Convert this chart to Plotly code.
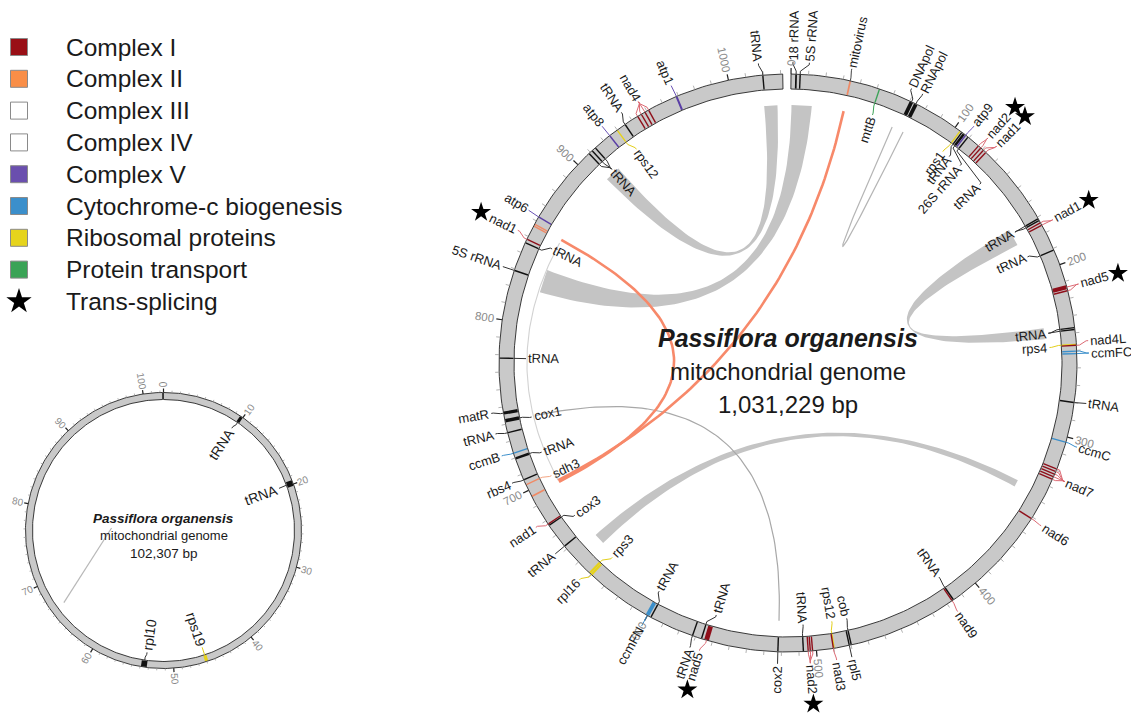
import math
import plotly.graph_objects as go

# ------------------------------------------------------------------ data
BIG_KB = 1031.229      # chromosome 1 length (kb)
SMALL_KB = 102.307     # chromosome 2 length (kb)

# chromosome 1 gene blocks: label, functional class, exon segments (kb),
# kb where the label sits, label side, trans-spliced flag
g_label = ['18 rRNA', '5S rRNA', 'mitovirus', 'mttB', 'DNApol', 'RNApol', 'rps1', 'tRNA', '26S rRNA', 'atp9',
           'tRNA', 'nad2', 'nad1', 'tRNA', 'nad1', 'tRNA', 'nad5', 'tRNA', 'rps4', 'nad4L',
           'ccmFC', 'tRNA', 'ccmC', 'nad7', 'nad6', 'tRNA', 'nad9', 'cob', 'rpl5', 'rps12',
           'nad3', 'nad2', 'tRNA', 'cox2', 'nad5', 'tRNA', 'tRNA', 'tRNA', 'ccmFN', 'rpl16',
           'rps3', 'tRNA', 'cox3', 'nad1', '', 'sdh3', 'rbs4', 'tRNA', 'ccmB', 'tRNA',
           'cox1', 'matR', 'tRNA', '5S rRNA', 'tRNA', 'nad1', '', 'atp6', 'tRNA', 'atp8',
           'rps12', 'tRNA', 'nad4', 'atp1', 'tRNA']
g_class = ['rna', 'rna', 'mito', 'ttb', 'orf', 'orf', 'rib', 'rna', 'rna', 'cV',
           'rna', 'cI', 'cI', 'rna', 'cI', 'rna', 'cI', 'rna', 'rib', 'cI',
           'ccm', 'rna', 'ccm', 'cI', 'cI', 'rna', 'cI', 'cIII', 'orf', 'rib',
           'cI', 'cI', 'rna', 'cIV', 'cI', 'rna', 'rna', 'rna', 'ccm', 'rib',
           'rib', 'rna', 'cIV', 'cI', 'cII', 'cII', 'orf', 'rna', 'ccm', 'rna',
           'cIV', 'orf', 'rna', 'rna', 'rna', 'cI', 'cII', 'cV', 'rna', 'cV',
           'rib', 'rna', 'cI', 'cV', 'rna']
g_segments = [
    [(2.4, 3.4)], [(5.0, 5.5)], [(33.6, 34.6)], [(51.0, 51.8)], [(70.0, 72.2)],
    [(72.8, 75.0)], [(103.2, 103.9)], [(104.6, 105.0)], [(105.5, 107.0)], [(107.3, 107.7)],
    [(109.0, 109.4)], [(116.8, 117.2), (118.6, 119.0)], [(120.6, 121.0), (122.4, 122.8)],
    [(170.8, 171.2), (171.9, 172.3)], [(173.5, 173.9), (175.0, 175.4)],
    [(190.8, 191.2)], [(212.2, 214.6), (215.3, 215.7)], [(236.8, 237.2), (237.9, 238.3)],
    [(246.3, 246.9)], [(246.9, 247.4)],
    [(250.3, 250.7), (251.7, 252.1)], [(279.6, 280.2)], [(302.8, 303.4)],
    [(319.0, 319.4), (320.6, 321.0), (322.2, 322.6), (323.8, 324.2), (325.4, 325.8)],
    [(350.8, 351.3)], [(415.5, 415.9)], [(416.4, 416.9)], [(479.6, 480.1)], [(480.7, 481.3)],
    [(489.6, 490.0)],
    [(490.0, 490.5)], [(502.0, 502.4), (503.3, 503.7), (504.5, 504.9)], [(507.2, 507.7)],
    [(521.8, 522.3)], [(562.0, 564.8)], [(566.2, 566.6)], [(571.6, 572.0)], [(597.6, 598.0)],
    [(599.0, 601.2)], [(639.0, 640.3)],
    [(640.3, 641.6)], [(661.8, 662.3)], [(676.6, 677.1)], [(677.5, 678.0)], [(695.6, 696.6)],
    [(703.2, 703.8)], [(706.3, 706.9)], [(719.0, 720.4)], [(722.6, 723.2)], [(734.8, 735.3)],
    [(741.0, 743.0)], [(745.6, 747.4)], [(777.8, 778.3)], [(828.8, 829.3)], [(845.8, 846.3)],
    [(847.9, 848.5)], [(856.4, 857.0), (857.6, 858.2)], [(862.2, 863.0)],
    [(908.8, 909.2), (911.2, 911.6), (913.6, 914.0)], [(924.2, 925.0)],
    [(929.6, 930.2)], [(935.2, 935.7)],
    [(943.8, 944.2), (946.2, 946.6), (948.6, 949.0), (951.0, 951.4)], [(968.3, 969.5)],
    [(1019.6, 1020.1)]]
g_label_kb = [1.0, 10.0, 33.5, 52.4, 68.0, 74.8, 102.5, 107.6, 116.5, 108.0,
              133.5, 118.0, 124.5, 171.0, 175.5, 188.5, 213.5, 238.5, 247.5, 245.0,
              251.8, 279.5, 304.0, 324.0, 351.5, 415.0, 417.5, 479.0, 481.0, 488.6,
              489.5, 504.0, 506.8, 522.0, 565.5, 562.0, 571.0, 601.0, 600.0, 642.5,
              637.5, 662.0, 673.0, 680.0, None, 702.0, 707.5, 718.0, 723.5, 736.0,
              741.0, 747.5, 778.0, 829.0, 849.5, 850.5, None, 863.0, 912.5, 924.5,
              932.5, 937.5, 948.5, 968.5, 1018.0]
g_side = ['out', 'out', 'out', 'in', 'out', 'out', 'in', 'in', 'in', 'out',
          'in', 'out', 'out', 'in', 'out', 'in', 'out', 'in', 'in', 'out',
          'out', 'out', 'out', 'out', 'out', 'in', 'out', 'in', 'out', 'in',
          'out', 'out', 'in', 'out', 'out', 'in', 'out', 'in', 'out', 'out',
          'in', 'out', 'in', 'out', None, 'in', 'out', 'in', 'out', 'out',
          'in', 'out', 'in', 'out', 'in', 'out', None, 'out', 'in', 'out',
          'in', 'out', 'out', 'out', 'out']
g_star = {11, 12, 14, 16, 31, 34, 55}

# chromosome 1 links: shared sequence ribbons (kb ranges)
ribbon_from = [(906, 916), (0.5, 13.5), (168, 179), (335, 339.5)]
ribbon_to = [(1019, 1027.5), (821, 836), (235, 242), (648, 655)]
sdh_link_from = [857.3, 34.1]
sdh_link_to = [696.3, 697.5]
thin_link_from = [855.0, 741.5, 66.8]
thin_link_to = [697.5, 522.0, 74.5]
thin_link_kind = ['rim', 'mid', 'light']

# chromosome 2 gene blocks
s_label = ['tRNA', 'tRNA', 'rps19', 'rpl10']
s_class = ['rna', 'rna', 'rib', 'orf']
s_segments = [[(9.6, 10.0)], [(19.5, 20.2)], [(45.8, 46.2)], [(53.2, 53.9)]]
s_label_kb = [9.6, 19.9, 46.0, 53.4]
s_side = ['in', 'in', 'in', 'in']
s_spur_kb = (66.6, 77.6)   # repeat link on chromosome 2

legend_names = ['Complex I', 'Complex II', 'Complex III', 'Complex IV', 'Complex V',
                'Cytochrome-c biogenesis', 'Ribosomal proteins', 'Protein transport']
legend_classes = ['cI', 'cII', 'cIII', 'cIV', 'cV', 'ccm', 'rib', 'ttb']

# ------------------------------------------------------------------ styles
FONT = 'Arial, Liberation Sans, sans-serif'
TXT = '#1a1a1a'
RING_FILL = '#c9c9c9'
KEY_FILL = {'cI': '#990f16', 'cII': '#f98e47', 'cIII': '#ffffff', 'cIV': '#ffffff', 'cV': '#6a4fae',
            'ccm': '#3b8fcb', 'rib': '#e6d41c', 'ttb': '#3aa356'}
BLOCK = {'cI': '#8f0f1a', 'cII': '#f08a65', 'cIII': '#111111', 'cIV': '#111111', 'cV': '#5a3ea6',
         'ccm': '#3b8fcb', 'rib': '#e6d21a', 'ttb': '#3aa356', 'rna': '#111111', 'orf': '#111111',
         'mito': '#f08a65'}
LEADER = {'cI': '#dc6a74', 'cII': '#f4a582', 'cIII': '#333333', 'cIV': '#333333', 'cV': '#6a52b5',
          'ccm': '#3b8fcb', 'rib': '#e3cf1a', 'ttb': '#3aa356', 'rna': '#333333', 'orf': '#333333',
          'mito': '#444444'}
THIN_STYLE = {'rim': ('#d2d2d2', 1.1, 293.0), 'mid': ('#a8a8a8', 1.2, 0.0), 'light': ('#b5b5b5', 1.2, 0.0)}

CHAR_W = {' ': 278, ',': 278, '-': 333, '.': 278}
CHAR_W.update({d: 556 for d in '0123456789'})
CHAR_W.update(dict(a=556, b=556, c=500, d=556, e=556, f=278, g=556, h=556, i=222, j=222, k=500, l=222,
                   m=833, n=556, o=556, p=556, q=556, r=333, s=500, t=278, u=556, v=500, w=722, x=500,
                   y=500, z=500))
CHAR_W.update(dict(A=667, B=667, C=722, D=722, E=667, F=611, G=778, H=722, I=278, J=500, K=667, L=556,
                   M=833, N=722, O=778, P=667, Q=778, R=722, S=667, T=611, U=722, V=667, W=944, X=667,
                   Y=667, Z=611))


def text_w(s, size):
    return sum(CHAR_W.get(ch, 556) for ch in s) / 1000.0 * size


class Track:
    def __init__(self, cx, cy, r_in, r_out, length, start_deg, deg_per_kb):
        self.cx, self.cy, self.r_in, self.r_out = cx, cy, r_in, r_out
        self.length, self.start, self.dpk = length, start_deg, deg_per_kb

    def bearing(self, kb):
        return self.start + kb * self.dpk

    def pt_b(self, b, r):
        a = math.radians(b)
        return (self.cx + r * math.sin(a), self.cy - r * math.cos(a))

    def pt(self, kb, r):
        return self.pt_b(self.bearing(kb), r)

    def arc(self, kb0, kb1, r, n=None):
        n = n or max(2, int(abs(kb1 - kb0) * self.dpk / 0.5) + 2)
        return [self.pt(kb0 + (kb1 - kb0) * i / (n - 1), r) for i in range(n)]


big = Track(788.0, 363.0, 274.0, 289.0, BIG_KB, 0.6, 0.3475)
small = Track(163.5, 530.5, 131.0, 138.0, SMALL_KB, 0.0, 3.515)

fig = go.Figure()
annotations = []


def add_poly(pts, fill, line_color=None, line_w=0):
    fig.add_trace(go.Scatter(
        x=[p[0] for p in pts], y=[p[1] for p in pts], mode='lines', fill='toself',
        fillcolor=fill, line=dict(color=line_color or fill, width=line_w),
        hoverinfo='skip', showlegend=False))


class LineLayer:
    def __init__(self):
        self.groups = {}

    def add(self, pts, color, width):
        key = (color, round(width, 2))
        xs, ys = self.groups.setdefault(key, ([], []))
        for p in pts:
            xs.append(p[0])
            ys.append(p[1])
        xs.append(None)
        ys.append(None)

    def flush(self):
        for (color, width), (xs, ys) in self.groups.items():
            fig.add_trace(go.Scatter(x=xs, y=ys, mode='lines', line=dict(color=color, width=width),
                                     hoverinfo='skip', showlegend=False))


def bezier(p0, c, p1, n=80):
    out = []
    for i in range(n):
        t = i / (n - 1)
        a, b, d = (1 - t) ** 2, 2 * (1 - t) * t, t * t
        out.append((a * p0[0] + b * c[0] + d * p1[0], a * p0[1] + b * c[1] + d * p1[1]))
    return out


def ribbon(track, r, s1, s2, color):
    a1, a2 = s1
    b1, b2 = s2
    ctr = (track.cx, track.cy)
    pts = track.arc(a1, a2, r)
    pts += bezier(track.pt(a2, r), ctr, track.pt(b1, r))
    pts += track.arc(b1, b2, r)
    pts += bezier(track.pt(b2, r), ctr, track.pt(a1, r))
    add_poly(pts, color)


def ring_outline(track):
    pts = track.arc(0, track.length, track.r_out, 400)
    pts += track.arc(track.length, 0, track.r_in, 400)
    pts.append(pts[0])
    return pts


def text_angle(b):
    b = b % 360
    return b - 90 if b < 180 else b - 270


def place_label(track, text, kb, side, size, r_gap):
    b = track.bearing(kb)
    w = text_w(text, size)
    if side == 'out':
        r0, sign = track.r_out + r_gap, 1
    else:
        r0, sign = track.r_in - r_gap, -1
    x, y = track.pt_b(b, r0 + sign * w / 2)
    annotations.append(dict(x=x, y=y, xref='x', yref='y', text=text, showarrow=False,
                            textangle=text_angle(b), xanchor='center', yanchor='middle',
                            font=dict(family=FONT, size=size, color=TXT)))
    return b, r0 + sign * w


def draw_track(track, labels, classes, segments, label_kb, sides, stars, font_size,
               gap_out, gap_in, lead_out, lead_in, tick_major, tick_minor, tick_size,
               maj_len, min_len, tick_gap, feat_min_w):
    # ring body
    add_poly(ring_outline(track), RING_FILL)
    # gene blocks across the ring
    blocks = LineLayer()
    r_mid = (track.r_in + track.r_out) / 2
    for cls, segs in zip(classes, segments):
        for s0, s1 in segs:
            span_px = (s1 - s0) * track.dpk * math.pi / 180 * r_mid
            kb = (s0 + s1) / 2
            blocks.add([track.pt(kb, track.r_in + 0.5), track.pt(kb, track.r_out - 0.5)],
                       BLOCK[cls], max(feat_min_w, span_px))
    blocks.flush()
    # ring border
    border = ring_outline(track)
    fig.add_trace(go.Scatter(x=[p[0] for p in border], y=[p[1] for p in border],
                             mode='lines', line=dict(color='#262626', width=0.9),
                             hoverinfo='skip', showlegend=False))
    # scale ticks
    ticks = LineLayer()
    k = 0.0
    while k <= track.length + 1e-6:
        if abs(k / tick_major - round(k / tick_major)) < 1e-6:
            ticks.add([track.pt(k, track.r_out), track.pt(k, track.r_out + maj_len)], '#222222', 1.2)
            lab = str(int(round(k)))
            b = track.bearing(k)
            w = text_w(lab, tick_size)
            x, y = track.pt_b(b, track.r_out + tick_gap + w / 2)
            annotations.append(dict(x=x, y=y, xref='x', yref='y', text=lab, showarrow=False,
                                    textangle=text_angle(b), xanchor='center', yanchor='middle',
                                    font=dict(family=FONT, size=tick_size, color='#8a8a8a')))
        else:
            ticks.add([track.pt(k, track.r_out), track.pt(k, track.r_out + min_len)], '#a0a0a0', 0.8)
        k += tick_minor
    ticks.flush()
    # labels with leader lines
    leaders = LineLayer()
    star_x, star_y = [], []
    for i, (text, cls, segs, lkb, side) in enumerate(zip(labels, classes, segments, label_kb, sides)):
        if not text:
            continue
        lb = track.bearing(lkb)
        for s0, s1 in segs:
            gb = track.bearing((s0 + s1) / 2)
            if side == 'out':
                r = track.r_out
                pts = [track.pt_b(gb, r), track.pt_b(gb, r + 3), track.pt_b(lb, r + lead_out - 2),
                       track.pt_b(lb, r + lead_out)]
            else:
                r = track.r_in
                pts = [track.pt_b(gb, r), track.pt_b(gb, r - 3), track.pt_b(lb, r - lead_in + 2),
                       track.pt_b(lb, r - lead_in)]
            leaders.add(pts, LEADER[cls], 1.0)
        b, r_end = place_label(track, text, lkb, side, font_size, gap_out if side == 'out' else gap_in)
        if i in stars:
            sx, sy = track.pt_b(b, r_end + 10)
            star_x.append(sx)
            star_y.append(sy)
    leaders.flush()
    if star_x:
        fig.add_trace(go.Scatter(x=star_x, y=star_y, mode='markers',
                                 marker=dict(symbol='star', size=15, color='#000000'),
                                 hoverinfo='skip', showlegend=False))


# ---------------- chromosome 1 ----------------
RIB_R = 258.0
for s1, s2 in zip(ribbon_from, ribbon_to):
    ribbon(big, RIB_R, s1, s2, '#c4c4c4')

thin = LineLayer()
for a, b, kind in zip(thin_link_from, thin_link_to, thin_link_kind):
    color, width, rc = THIN_STYLE[kind]
    mid_b = (big.bearing(a) + big.bearing(b)) / 2
    ctrl = big.pt_b(mid_b, rc)
    thin.add(bezier(big.pt(a, RIB_R), ctrl, big.pt(b, RIB_R)), color, width)
thin.flush()

# complex II links, drawn as solid salmon curves
sdh = LineLayer()
for a, b in zip(sdh_link_from, sdh_link_to):
    sdh.add(bezier(big.pt(a, RIB_R), (big.cx, big.cy), big.pt(b, RIB_R)), '#f7896a', 2.6)
sdh.flush()

draw_track(big, g_label, g_class, g_segments, g_label_kb, g_side, g_star, 13,
           gap_out=14, gap_in=14, lead_out=12, lead_in=12, tick_major=100, tick_minor=10,
           tick_size=11.5, maj_len=6, min_len=4, tick_gap=8, feat_min_w=1.4)

# ---------------- chromosome 2 ----------------
spur = LineLayer()
spur.add([small.pt(s_spur_kb[0], 123), small.pt(s_spur_kb[1], 52)], '#b8b8b8', 1.2)
spur.flush()
draw_track(small, s_label, s_class, s_segments, s_label_kb, s_side, set(), 14,
           gap_out=9, gap_in=10, lead_out=8, lead_in=8, tick_major=10, tick_minor=1,
           tick_size=10, maj_len=4, min_len=2, tick_gap=5, feat_min_w=1.5)

# centre titles
for (x, y, txt, size) in [(big.cx, 338, '<b><i>Passiflora organensis</i></b>', 25),
                          (big.cx, 371, 'mitochondrial genome', 24),
                          (big.cx, 404, '1,031,229 bp', 24),
                          (small.cx, 518, '<b><i>Passiflora organensis</i></b>', 13.5),
                          (small.cx, 535.5, 'mitochondrial genome', 13),
                          (small.cx, 553, '102,307 bp', 13.5)]:
    annotations.append(dict(x=x, y=y, xref='x', yref='y', text=txt, showarrow=False,
                            xanchor='center', yanchor='middle',
                            font=dict(family=FONT, size=size, color=TXT)))

# ---------------- key ----------------
key_y = [47 + 31.8 * i for i in range(len(legend_names) + 1)]
fig.add_trace(go.Scatter(
    x=[19] * len(legend_names), y=key_y[:len(legend_names)], mode='markers',
    marker=dict(symbol='square', size=17, color=[KEY_FILL[c] for c in legend_classes],
                line=dict(color='#8a8a8a', width=1)),
    hoverinfo='skip', showlegend=False))
fig.add_trace(go.Scatter(x=[19], y=[key_y[-1]], mode='markers',
                         marker=dict(symbol='star', size=19, color='#000000'),
                         hoverinfo='skip', showlegend=False))
for name, y in zip(legend_names + ['Trans-splicing'], key_y):
    annotations.append(dict(x=64, y=y, xref='x', yref='y', text=name, showarrow=False,
                            xanchor='left', yanchor='middle',
                            font=dict(family=FONT, size=24.5, color=TXT)))

fig.update_layout(
    width=1131, height=715, autosize=False,
    margin=dict(l=0, r=0, t=0, b=0),
    paper_bgcolor='white', plot_bgcolor='white',
    showlegend=False, annotations=annotations,
    xaxis=dict(range=[0, 1131], visible=False, fixedrange=True),
    yaxis=dict(range=[715, 0], visible=False, fixedrange=True),
)

fig.write_html('out.html')
